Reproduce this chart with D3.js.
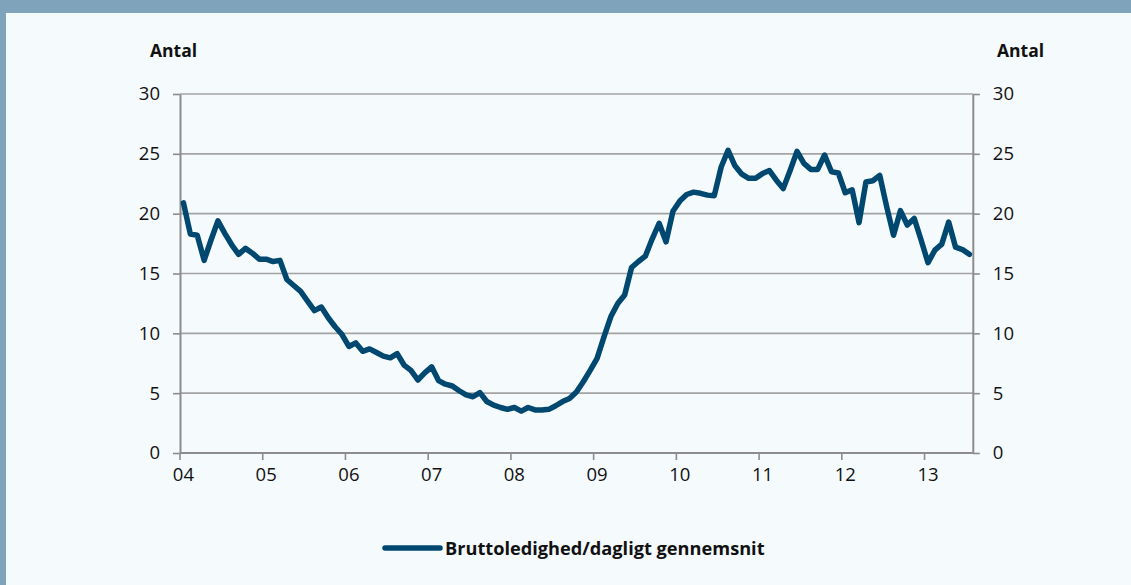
<!DOCTYPE html>
<html>
<head>
<meta charset="utf-8">
<script src="https://cdn.jsdelivr.net/npm/d3@7"></script>
<style>
  body { margin: 0; background: #F5FAFD; }
  svg { display: block; font-family: "Open Sans", sans-serif; }
  .tick text { fill: #111; }
</style>
</head>
<body>
<svg width="1131" height="585"></svg>
<script>
// Bruttoledighed, dagligt gennemsnit (monthly, Jan 2004 - Jul 2013)
var startYear = 2004;
var values = [
  20.9, 18.3, 18.2, 16.1, 17.8, 19.4, 18.35, 17.4, 16.6, 17.1, 16.7, 16.2,
  16.2, 16.0, 16.1, 14.5, 14.0, 13.5, 12.7, 11.9, 12.2, 11.3, 10.55, 9.9,
  8.9, 9.2, 8.5, 8.7, 8.4, 8.1, 7.95, 8.3, 7.35, 6.9, 6.1, 6.7,
  7.2, 6.05, 5.75, 5.6, 5.2, 4.85, 4.7, 5.05, 4.3, 4.0, 3.8, 3.65,
  3.8, 3.5, 3.8, 3.6, 3.6, 3.65, 3.95, 4.3, 4.55, 5.1, 5.95, 6.9,
  7.9, 9.7, 11.4, 12.5, 13.2, 15.5, 16.0, 16.45, 17.9, 19.2, 17.65, 20.2,
  21.05, 21.6, 21.8, 21.7, 21.55, 21.5, 23.9, 25.3, 24.0, 23.3, 22.95, 22.95,
  23.35, 23.6, 22.8, 22.1, 23.6, 25.2, 24.2, 23.7, 23.7, 24.9, 23.5, 23.4,
  21.75, 22.0, 19.25, 22.65, 22.75, 23.2, 20.6, 18.2, 20.25, 19.05, 19.6, 17.8,
  15.9, 16.95, 17.45, 19.3, 17.2, 17.0, 16.6
];
var yearLabels = ["04", "05", "06", "07", "08", "09", "10", "11", "12", "13"];
var yTicks = [0, 5, 10, 15, 20, 25, 30];
var seriesName = "Bruttoledighed/dagligt gennemsnit";
var axisTitle = "Antal";

var months = values.map(function (v, i) { return i; });

var svg = d3.select("svg"),
    width = +svg.attr("width"),
    height = +svg.attr("height");

var plotLeft = 180, plotRight = 972.8, plotTop = 94, plotBottom = 453;

// frame
svg.append("rect").attr("width", width).attr("height", height).attr("fill", "#F5FAFD");
svg.append("rect").attr("width", width).attr("height", 13).attr("fill", "#7FA3BA");
svg.append("rect").attr("width", 6).attr("height", height).attr("fill", "#7FA3BA");

var x = d3.scaleBand().domain(months).range([plotLeft, plotRight]).paddingInner(0).paddingOuter(0);
var y = d3.scaleLinear().domain([0, 30]).range([plotBottom, plotTop]);
var half = x.bandwidth() / 2;

// gridlines
svg.append("g")
  .selectAll("line")
  .data(yTicks.filter(function (d) { return d > 0; }))
  .enter().append("line")
  .attr("x1", plotLeft).attr("x2", plotRight)
  .attr("y1", function (d) { return y(d); })
  .attr("y2", function (d) { return y(d); })
  .attr("stroke", "#A3A3A3")
  .attr("stroke-width", 1.6);

function styleAxis(g) {
  g.attr("font-family", null).attr("font-size", null);
  g.select(".domain").attr("stroke", "#8C8C8C").attr("stroke-width", 2);
  g.selectAll(".tick line").attr("stroke", "#8C8C8C").attr("stroke-width", 1.6);
  g.selectAll(".tick text").attr("font-size", 18.5);
}

var yLeft = svg.append("g")
  .attr("transform", translate(plotLeft, 0))
  .call(d3.axisLeft(y).tickValues(yTicks).tickSize(7).tickPadding(13).tickSizeOuter(0));
styleAxis(yLeft);

var yRight = svg.append("g")
  .attr("transform", translate(plotRight, 0))
  .call(d3.axisRight(y).tickValues(yTicks).tickSize(7).tickPadding(13).tickSizeOuter(0));
styleAxis(yRight);

// year boundary ticks
var yearStarts = months.filter(function (m) { return m % 12 === 0; });
var xTicks = svg.append("g")
  .attr("transform", translate(0, plotBottom))
  .call(d3.axisBottom(x).tickValues(yearStarts).tickSize(7).tickFormat("").tickSizeOuter(0));
xTicks.selectAll(".tick").attr("transform", function (d) { return translate(x(d), 0); });
styleAxis(xTicks);
xTicks.select(".domain").attr("d", "M" + plotLeft + ",0H" + plotRight);

// year labels at January of each year
var xLabels = svg.append("g")
  .attr("transform", translate(0, plotBottom))
  .call(d3.axisBottom(x).tickValues(yearStarts).tickSize(0).tickPadding(15)
    .tickFormat(function (d) { return yearLabels[d / 12]; }));
styleAxis(xLabels);
xLabels.select(".domain").remove();

// axis titles
svg.append("text").text(axisTitle)
  .attr("x", 150).attr("y", 57)
  .attr("font-size", 17.5).attr("font-weight", "bold").attr("fill", "#111");
svg.append("text").text(axisTitle)
  .attr("x", 997).attr("y", 57)
  .attr("font-size", 17.5).attr("font-weight", "bold").attr("fill", "#111");

// series line
var line = d3.line()
  .x(function (d, i) { return x(months[i]) + half; })
  .y(function (d) { return y(d); });

svg.append("path")
  .datum(values)
  .attr("d", line)
  .attr("fill", "none")
  .attr("stroke", "#00486F")
  .attr("stroke-width", 5.5)
  .attr("stroke-linejoin", "round")
  .attr("stroke-linecap", "round");

// legend
var legend = svg.append("g").attr("transform", translate(385, 548));
legend.append("line")
  .attr("x1", 0).attr("x2", 55)
  .attr("stroke", "#00486F").attr("stroke-width", 5.5).attr("stroke-linecap", "round");
legend.append("text").text(seriesName)
  .attr("x", 60).attr("y", 6.5)
  .attr("font-size", 18.2).attr("font-weight", "bold").attr("fill", "#111");

function translate(x, y) {
  return `translate(${x},${y})`;
}
</script>
</body>
</html>
